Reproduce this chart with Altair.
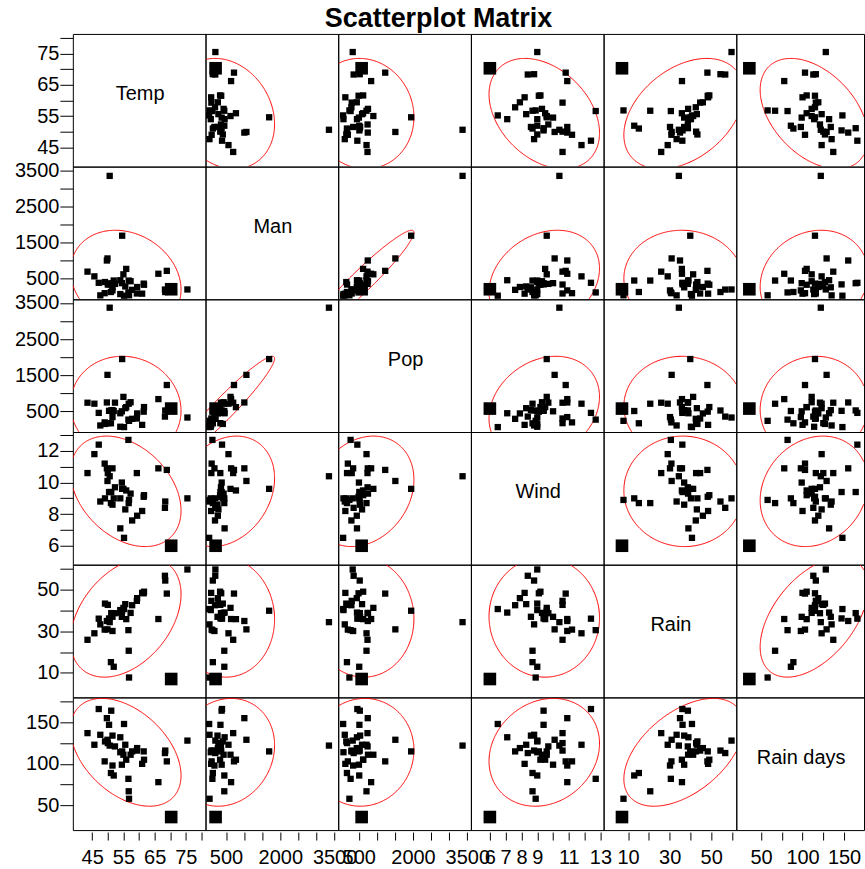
import altair as alt
import numpy as np
import pandas as pd

# US air pollution data (41 cities)
cities = ["Albany", "Albuquerque", "Atlanta", "Baltimore", "Buffalo", "Charleston",
          "Chicago", "Cincinnati", "Cleveland", "Columbus", "Dallas", "Denver",
          "Des Moines", "Detroit", "Hartford", "Houston", "Indianapolis",
          "Jacksonville", "Kansas City", "Little Rock", "Louisville", "Memphis",
          "Miami", "Milwaukee", "Minneapolis", "Nashville", "New Orleans",
          "Norfolk", "Omaha", "Philadelphia", "Phoenix", "Pittsburgh",
          "Providence", "Richmond", "Salt Lake City", "San Francisco", "Seattle",
          "St. Louis", "Washington", "Wichita", "Wilmington"]
temp = [47.6, 56.8, 61.5, 55.0, 47.1, 55.2, 50.6, 54.0, 49.7, 51.5, 66.2, 51.9,
        49.0, 49.9, 49.1, 68.9, 52.3, 68.4, 54.5, 61.0, 55.6, 61.6, 75.5, 45.7,
        43.5, 59.4, 68.3, 59.3, 51.5, 54.6, 70.3, 50.4, 50.0, 57.8, 51.0, 56.7,
        51.1, 55.9, 57.3, 56.6, 54.0]
manu = [44, 46, 368, 625, 391, 35, 3344, 462, 1007, 266, 641, 454, 104, 1064,
        412, 721, 361, 136, 381, 91, 291, 337, 207, 569, 699, 275, 204, 96, 181,
        1692, 213, 347, 343, 197, 137, 453, 379, 775, 434, 125, 80]
popul = [116, 244, 497, 905, 463, 71, 3369, 453, 751, 540, 844, 515, 201, 1513,
         158, 1233, 746, 529, 507, 132, 593, 624, 335, 717, 744, 448, 361, 308,
         347, 1950, 582, 520, 179, 299, 176, 716, 531, 622, 757, 277, 80]
wind = [8.8, 8.9, 9.1, 9.6, 12.4, 6.5, 10.4, 7.1, 10.9, 8.6, 10.9, 9.0, 11.2,
        10.1, 9.0, 10.8, 9.7, 8.8, 10.0, 8.2, 8.3, 9.2, 9.0, 11.8, 10.6, 7.9, 8.4,
        10.6, 10.9, 9.6, 6.0, 9.4, 10.6, 7.6, 8.7, 8.7, 9.4, 9.5, 9.3, 12.7, 9.0]
rain = [33.36, 7.77, 48.34, 41.31, 36.11, 40.75, 34.44, 39.04, 34.99, 37.01,
        35.94, 12.95, 30.85, 30.96, 43.37, 48.19, 38.74, 54.47, 37.00, 48.52,
        43.11, 49.10, 59.80, 29.07, 25.94, 46.00, 56.77, 44.68, 30.18, 39.93,
        7.05, 36.22, 42.75, 42.59, 15.17, 20.66, 38.79, 35.89, 38.89, 30.58, 40.25]
rain_days = [135, 58, 115, 111, 166, 148, 122, 132, 155, 134, 78, 86, 103, 129,
             127, 103, 121, 116, 99, 100, 123, 105, 128, 123, 137, 119, 113, 116,
             98, 115, 36, 147, 125, 115, 89, 67, 164, 105, 111, 82, 114]

labels = ["Temp", "Man", "Pop", "Wind", "Rain", "Rain days"]
fields = ["temp", "manu", "popul", "wind", "rain", "rain_days"]
highlighted = "Phoenix"

# axis ranges for each variable
domains = {
    "temp": [38.8, 81.3],
    "manu": [-65, 3600],
    "popul": [-65, 3600],
    "wind": [4.8, 13.2],
    "rain": [-1.8, 62.1],
    "rain_days": [20.3, 180.0],
}
last_col_domain = [20.3, 174.0]

# tick positions and which of them carry a label
left_ticks = {
    "temp": [45, 50, 55, 60, 65, 70, 75, 80],
    "manu": [500, 1000, 1500, 2000, 2500, 3000, 3500],
    "popul": [500, 1000, 1500, 2000, 2500, 3000, 3500],
    "wind": [6, 7, 8, 9, 10, 11, 12, 13],
    "rain": [10, 20, 30, 40, 50, 60],
    "rain_days": [50, 75, 100, 125, 150, 175],
}
left_labels = {
    "temp": [45, 55, 65, 75],
    "manu": [500, 1500, 2500, 3500],
    "popul": [500, 1500, 2500, 3500],
    "wind": [6, 8, 10, 12],
    "rain": [10, 30, 50],
    "rain_days": [50, 100, 150],
}
bottom_ticks = {
    "temp": [45, 50, 55, 60, 65, 70, 75, 80],
    "manu": [500, 1000, 1500, 2000, 2500, 3000, 3500],
    "popul": [500, 1000, 1500, 2000, 2500, 3000, 3500],
    "wind": [6, 7, 8, 9, 10, 11, 12, 13],
    "rain": [10, 20, 30, 40, 50, 60],
    "rain_days": [50, 75, 100, 125, 150],
}
bottom_labels = {
    "temp": [45, 55, 65, 75],
    "manu": [500, 2000, 3500],
    "popul": [500, 2000, 3500],
    "wind": [6, 7, 8, 9, 11, 13],
    "rain": [10, 30, 50],
    "rain_days": [50, 100, 150],
}

FONT = "Liberation Sans"
col_widths = [133, 133, 133, 133, 133, 128]
row_heights = [133, 133, 133, 133, 133, 133]

df = pd.DataFrame({"city": cities, "temp": temp, "manu": manu, "popul": popul,
                   "wind": wind, "rain": rain, "rain_days": rain_days})
df_hi = df[df["city"] == highlighted]


def density_ellipse(xv, yv, xdom, ydom, n=360, chi2=5.991):
    """95% normal-theory density ellipse, split into the runs inside the panel."""
    xv = np.asarray(xv, float)
    yv = np.asarray(yv, float)
    mean = np.array([xv.mean(), yv.mean()])
    cov = np.cov(xv, yv)
    vals, vecs = np.linalg.eigh(cov)
    t = np.linspace(0, 2 * np.pi, n + 1)
    circ = np.stack([np.cos(t), np.sin(t)])
    pts = vecs @ (np.sqrt(vals * chi2)[:, None] * circ) + mean[:, None]
    ex, ey = pts
    inside = ((ex >= xdom[0]) & (ex <= xdom[1]) &
              (ey >= ydom[0]) & (ey <= ydom[1]))
    # rotate so the path starts outside the panel, then label each inside run
    if not inside.all():
        start = int(np.argmin(inside))
        order = np.r_[start:n, 0:start]
        ex, ey, inside = ex[order], ey[order], inside[order]
    run = np.cumsum(np.r_[True, inside[1:] != inside[:-1]])
    keep = inside
    return pd.DataFrame({"ex": ex[keep], "ey": ey[keep],
                         "k": np.arange(len(ex))[keep], "run": run[keep]})


def label_expr(keep):
    test = " || ".join(f"datum.value == {v}" for v in keep)
    return f"({test}) ? datum.label : ''"


def left_axis(f):
    return alt.Axis(values=left_ticks[f], labelExpr=label_expr(left_labels[f]),
                    format="d", title=None, domain=False, grid=False,
                    tickSize=13, labelPadding=1, minExtent=60, maxExtent=60,
                    labelFlush=False, labelOverlap=False)


def bottom_axis(f):
    return alt.Axis(values=bottom_ticks[f], labelExpr=label_expr(bottom_labels[f]),
                    format="d", title=None, domain=False, grid=False,
                    tickSize=8, offset=2, labelPadding=7,
                    labelFlush=False, labelOverlap=False)


def make_panel(i, j):
    fy, fx = fields[i], fields[j]
    w, h = col_widths[j], row_heights[i]
    xdom = last_col_domain if j == 5 else domains[fx]
    ydom = domains[fy]
    xscale = alt.Scale(domain=xdom, nice=False, zero=False)
    yscale = alt.Scale(domain=ydom, nice=False, zero=False)
    xax = bottom_axis(fx) if i == 5 else None
    yax = left_axis(fy) if j == 0 else None

    def xenc(field):
        return alt.X(f"{field}:Q", scale=xscale, axis=xax)

    def yenc(field):
        return alt.Y(f"{field}:Q", scale=yscale, axis=yax)

    if i == j:
        base = alt.Chart(df).mark_point(opacity=0).encode(x=xenc(fx), y=yenc(fy))
        name = alt.Chart(pd.DataFrame({"name": [labels[i]]})).mark_text(
            font=FONT, fontSize=20, color="black", align="center", baseline="middle"
        ).encode(x=alt.value(w / 2 + 1), y=alt.value(h / 2 - 6), text="name:N")
        layer = alt.layer(base, name)
    else:
        ell = density_ellipse(df[fx], df[fy], xdom, ydom)
        ring = alt.Chart(ell).mark_line(color="red", strokeWidth=1, clip=True).encode(
            x=xenc("ex"), y=yenc("ey"), order="k:Q", detail="run:N")
        pts = alt.Chart(df).mark_square(size=40, color="black", opacity=1).encode(
            x=xenc(fx), y=yenc(fy))
        big = alt.Chart(df_hi).mark_square(size=160, color="black", opacity=1).encode(
            x=xenc(fx), y=yenc(fy))
        layer = alt.layer(ring, pts, big)
    return layer.properties(width=w, height=h)


panels = [make_panel(i, j) for i in range(6) for j in range(6)]

chart = alt.concat(*panels, columns=6, spacing=0, bounds="flush").properties(
    title=alt.TitleParams("Scatterplot Matrix", font=FONT, fontSize=27,
                          fontWeight="bold", color="black", anchor="middle",
                          offset=-5),
    padding={"left": 12, "top": 3, "right": 0, "bottom": 0},
).configure_view(
    stroke="black", strokeWidth=1
).configure_axis(
    labelFont=FONT, labelFontSize=20, labelColor="black",
    tickColor="black", tickWidth=1
)

chart.save("out.html", embed_options={"renderer": "svg", "actions": False})
